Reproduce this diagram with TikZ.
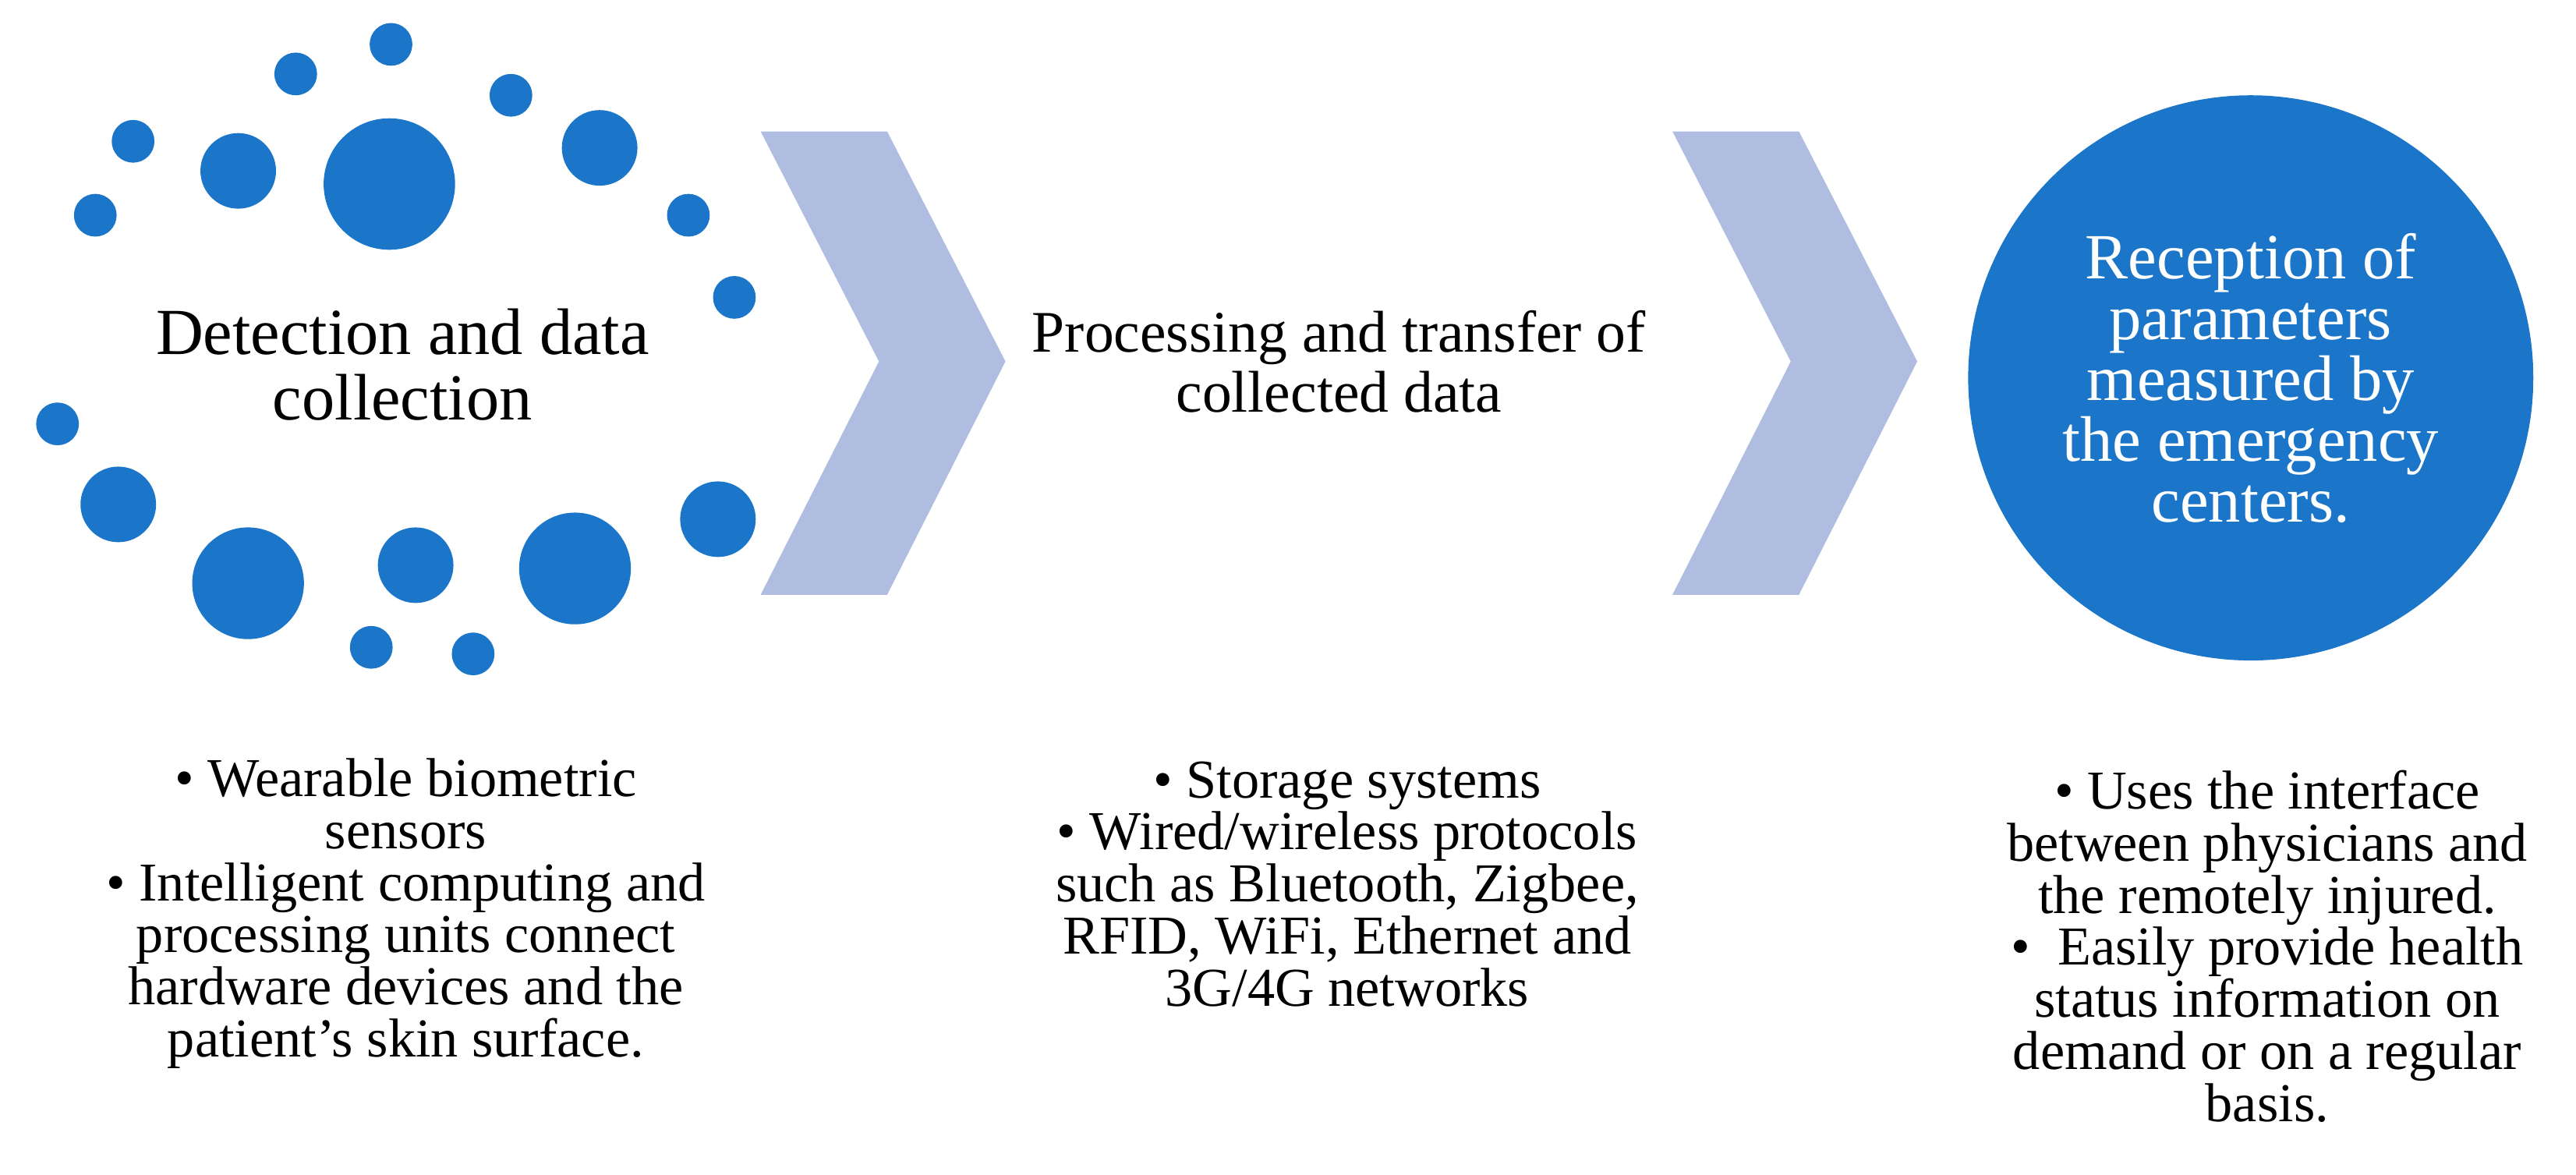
\documentclass[tikz,border=0pt]{standalone}
\usepackage{fontspec}
\setmainfont{Liberation Serif}
\definecolor{dotblue}{HTML}{1B75C9}
\definecolor{chevron}{HTML}{AEBDE0}
\tikzset{
  dot/.style={fill=dotblue, draw=none},
  chev/.style={fill=chevron, draw=none},
  bullets/.style={align=center, font=\fontsize{20}{19}\selectfont},
}
\begin{document}
\begin{tikzpicture}[x=0.02107cm, y=-0.02107cm]
	\useasboundingbox (0,0) rectangle (1568,715);
	% ring of dots
	\foreach \px/\py/\r in {238/27/13, 180/45/13, 311/58/13, 81/86/13, 145/104/23, 237/112/40,
		365/90/23, 58/131/13, 419/131/13, 447/181/13, 35/258/13, 72/307/23, 151/355/34,
		253/344/23, 350/346/34, 437/316/23, 226/394/13, 288/398/13}
		\fill[dot] (\px,\py) circle[radius=\r*0.02107cm];
	
	\draw[chev] (463,80) -- (540,80) -- (612,220) -- (540,362) -- (463,362) -- (535,220) -- cycle;
	\draw[chev] (1018,80) -- (1095,80) -- (1167,220) -- (1095,362) -- (1018,362) -- (1090,220) -- cycle;
	\fill[dot] (1370,230) circle[radius=172*0.02107cm];
	
	\node[align=center, font=\fontsize{24}{24}\selectfont] (detect) at (245,222) {Detection and data\\collection};
	\node[align=center, font=\fontsize{21.5}{22}\selectfont] (process) at (815,220) {Processing and transfer of\\collected data};
	\node[align=center, text=white, font=\fontsize{23.5}{22.2}\selectfont] (receive) at (1370,230)
		{Reception of\\parameters\\measured by\\the emergency\\centers.};
	
	\node[bullets] (sensors) at (247,556) {\textbullet\ Wearable biometric\\sensors\\\textbullet\ Intelligent computing and\\processing units connect\\hardware devices and the\\patient's skin surface.};
	\node[bullets] (storage) at (820,538) {\textbullet\ Storage systems\\\textbullet\ Wired/wireless protocols\\such as Bluetooth, Zigbee,\\RFID, WiFi, Ethernet and\\3G/4G networks};
	\node[bullets] (interface) at (1380,576) {\textbullet\ Uses the interface\\between physicians and\\the remotely injured.\\\textbullet\ \ Easily provide health\\status information on\\demand or on a regular\\basis.};
\end{tikzpicture}
\end{document}
